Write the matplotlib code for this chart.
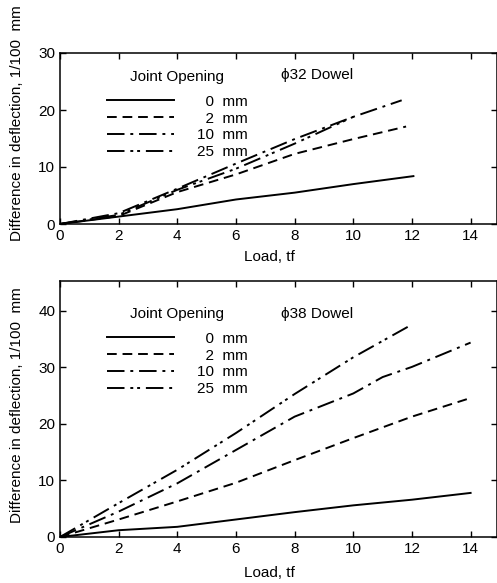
import matplotlib
matplotlib.use("Agg")
import matplotlib.pyplot as plt
from matplotlib.lines import Line2D

plt.rcParams['font.family'] = ['Liberation Sans', 'DejaVu Sans']
plt.rcParams['font.size'] = 11

openings = ['0', '2', '10', '25']

# phi 32 dowel
load_32_0 = [0, 2, 4, 6, 8, 10, 12.05]
defl_32_0 = [0, 1.3, 2.6, 4.3, 5.5, 7.0, 8.4]
load_32_2 = [0, 2, 4, 6, 8, 10, 11.8]
defl_32_2 = [0, 1.4, 5.6, 8.7, 12.3, 14.9, 17.1]
load_32_10 = [0, 2, 4, 6, 8, 10, 11.65]
defl_32_10 = [0, 1.9, 6.2, 10.6, 14.9, 18.8, 21.7]
load_32_25 = [0, 2, 4, 6, 8, 10]
defl_32_25 = [0, 1.6, 6.0, 9.7, 14.1, 18.8]

# phi 38 dowel
load_38_0 = [0, 2, 4, 6, 8, 10, 12, 14]
defl_38_0 = [0, 1.2, 1.8, 3.1, 4.4, 5.6, 6.6, 7.8]
load_38_2 = [0, 2, 4, 6, 8, 10, 12, 14]
defl_38_2 = [0, 3.1, 6.3, 9.6, 13.6, 17.5, 21.3, 24.6]
load_38_10 = [0, 2, 4, 6, 8, 10, 11, 12, 14]
defl_38_10 = [0, 4.5, 9.5, 15.4, 21.3, 25.4, 28.3, 30.1, 34.4]
load_38_25 = [0, 2, 4, 6, 8, 10, 12]
defl_38_25 = [0, 6.0, 11.9, 18.4, 25.3, 31.8, 37.6]

styles = ['-', (0, (5, 3)), (0, (9, 3, 1.5, 3)), (0, (9, 3, 1.5, 2, 1.5, 3))]

W, H = 497, 583
fig = plt.figure(figsize=(W / 100, H / 100), dpi=100)
ax1 = fig.add_axes([60 / W, 1 - 224 / H, (W - 60) / W, 171 / H])
ax2 = fig.add_axes([60 / W, 1 - 537 / H, (W - 60) / W, 256 / H])

panels = [
    (ax1, [(load_32_0, defl_32_0), (load_32_2, defl_32_2), (load_32_10, defl_32_10), (load_32_25, defl_32_25)],
     '\u03d532 Dowel', (0, 30), [0, 10, 20, 30], 0.948, 0.59, -0.15, 0.87),
    (ax2, [(load_38_0, defl_38_0), (load_38_2, defl_38_2), (load_38_10, defl_38_10), (load_38_25, defl_38_25)],
     '\u03d538 Dowel', (0, 45.3), [0, 10, 20, 30, 40], 0.93, 0.516, -0.113, 0.87),
]

for ax, series, dowel, ylim, yticks, leg_y, ylab_y, xlab_y, dowel_y in panels:
    for (x, y), ls in zip(series, styles):
        ax.plot(x, y, color='black', linestyle=ls, linewidth=1.4)
    ax.set_xlim(0, 14.9)
    ax.set_ylim(*ylim)
    ax.set_xticks([0, 2, 4, 6, 8, 10, 12, 14])
    ax.set_yticks(yticks)
    ax.tick_params(direction='in', top=True, right=True, length=4, width=1, labelsize=11)
    for s in ax.spines.values():
        s.set_linewidth(1.1)
    ax.set_xlabel('Load, tf', fontsize=11)
    ax.xaxis.set_label_coords(0.48, xlab_y)
    ax.set_ylabel('Difference in deflection, 1/100  mm', fontsize=11)
    ax.yaxis.set_label_coords(-0.082, ylab_y)

    handles = [Line2D([], [], color='black', linestyle=ls, linewidth=1.4) for ls in styles]
    labels = [('\u2007' if len(o) == 1 else '') + o + '  mm' for o in openings]
    leg = ax.legend(handles, labels, title='Joint Opening', loc='upper left',
                    bbox_to_anchor=(0.09, leg_y), frameon=False, handlelength=4.4,
                    handletextpad=1.5, labelspacing=0.19, fontsize=11, title_fontsize=11,
                    borderpad=0)
    leg._legend_box.sep = 8
    ax.text(0.505, dowel_y, dowel, transform=ax.transAxes, fontsize=11, ha='left', va='center')

fig.savefig('out.png', dpi=100)
